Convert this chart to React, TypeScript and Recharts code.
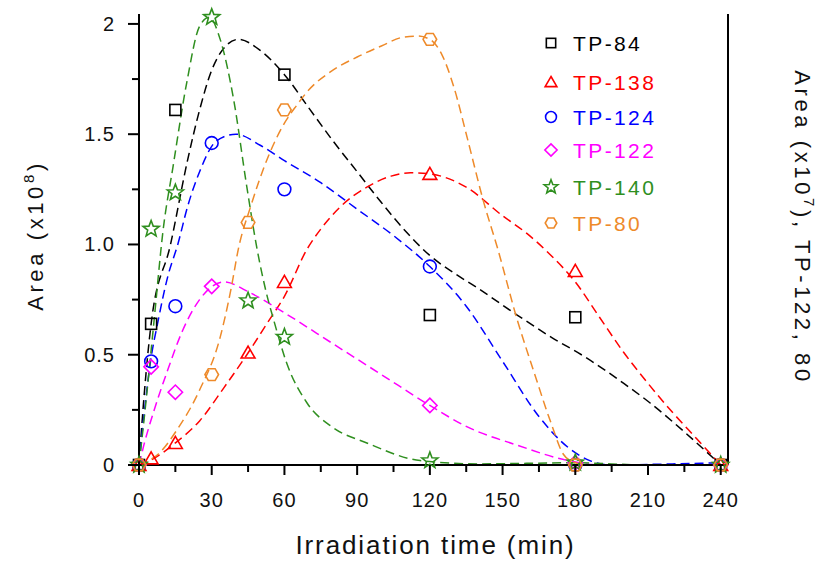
import {
  ComposedChart,
  Line,
  Scatter,
  XAxis,
  YAxis,
  Legend,
} from 'recharts'

// ─── Data ────────────────────────────────────────────────────────────────────

// measured points (irradiation time in min, area)
const tp84X = [0, 5, 15, 60, 120, 180, 240]
const tp84Y = [0, 0.64, 1.61, 1.77, 0.68, 0.67, 0]

const tp138X = [0, 5, 15, 45, 60, 120, 180, 240]
const tp138Y = [0, 0.03, 0.1, 0.51, 0.83, 1.32, 0.88, 0]

const tp124X = [0, 5, 15, 30, 60, 120, 180, 240]
const tp124Y = [0, 0.47, 0.72, 1.46, 1.25, 0.9, 0, 0]

const tp122X = [0, 5, 15, 30, 120, 180, 240]
const tp122Y = [0, 0.445, 0.33, 0.81, 0.27, 0.01, 0]

const tp140X = [0, 5, 15, 30, 45, 60, 120, 180, 240]
const tp140Y = [0, 1.07, 1.235, 2.03, 0.745, 0.58, 0.02, 0.01, 0]

const tp80X = [0, 30, 45, 60, 120, 180, 240]
const tp80Y = [0, 0.41, 1.1, 1.61, 1.93, 0, 0]

// fitted curves
const fit84X = [0, 2, 5, 13, 20, 25, 30, 35, 41, 50, 60, 70, 80, 90, 100, 110, 120, 130, 140, 156, 170, 184, 200, 211, 225, 240]
const fit84Y = [0, 0.3, 0.64, 1.0, 1.38, 1.61, 1.79, 1.89, 1.93, 1.88, 1.77, 1.62, 1.47, 1.33, 1.19, 1.06, 0.95, 0.87, 0.8, 0.68, 0.58, 0.49, 0.37, 0.28, 0.15, 0]

const fit138X = [0, 4.5, 15, 25, 35, 44.5, 53, 60, 69.4, 75, 83, 94, 104, 112, 120, 135, 150, 160, 170, 180, 190, 200, 210, 220, 230, 240]
const fit138Y = [0, 0.02, 0.1, 0.2, 0.35, 0.5, 0.645, 0.765, 0.98, 1.07, 1.17, 1.26, 1.31, 1.325, 1.32, 1.26, 1.13, 1.05, 0.95, 0.83, 0.67, 0.51, 0.37, 0.24, 0.12, 0]

const fit124X = [0, 2, 4.5, 8, 12, 16, 20, 25, 32, 40, 50, 60, 75, 90, 105, 120, 135, 150, 165, 177, 186, 195, 220, 240]
const fit124Y = [0, 0.22, 0.45, 0.66, 0.86, 1.0, 1.17, 1.33, 1.47, 1.5, 1.45, 1.38, 1.28, 1.16, 1.04, 0.9, 0.72, 0.47, 0.22, 0.08, 0.02, 0, 0.005, 0.01]

const fit122X = [0, 2, 6, 11.5, 18, 25, 35, 46, 60, 80, 100, 120, 135, 156, 177, 190, 240]
const fit122Y = [0, 0.09, 0.24, 0.42, 0.61, 0.75, 0.83, 0.78, 0.69, 0.55, 0.41, 0.27, 0.175, 0.09, 0.02, 0, 0]

const fit140X = [0, 3, 6, 10, 14, 19.8, 25, 29, 33.5, 39, 44.5, 48.7, 53, 55.5, 61, 69.4, 80, 94, 116, 140, 180, 210, 240]
const fit140Y = [0, 0.3, 0.63, 1.07, 1.35, 1.74, 1.99, 2.03, 1.93, 1.66, 1.26, 0.98, 0.76, 0.66, 0.46, 0.28, 0.17, 0.1, 0.02, 0.005, 0.01, 0, 0]

const fit80X = [0, 2, 8, 15.7, 25, 33.5, 38, 41, 46, 53, 60, 65, 70, 80, 90, 100, 109, 115, 120, 125, 130, 135.5, 142, 148, 156, 163, 170, 175, 178, 185, 210, 240]
const fit80Y = [0, 0.01, 0.05, 0.16, 0.34, 0.58, 0.8, 0.98, 1.17, 1.39, 1.55, 1.63, 1.7, 1.79, 1.85, 1.9, 1.94, 1.945, 1.93, 1.86, 1.71, 1.48, 1.2, 0.98, 0.66, 0.42, 0.19, 0.05, 0.02, 0, 0, 0]

// axes
const xTicks = [0, 15, 30, 45, 60, 75, 90, 105, 120, 135, 150, 165, 180, 195, 210, 225, 240]
const xMajor = [0, 30, 60, 90, 120, 150, 180, 210, 240]
const yTicks = [0, 0.25, 0.5, 0.75, 1, 1.25, 1.5, 1.75, 2]
const yMajor = [0, 0.5, 1, 1.5, 2]
const yTickLabels = ['0', '0.5', '1.0', '1.5', '2']

const X_MAX = 243
const Y_MAX = 2.045

// ─── Helpers ─────────────────────────────────────────────────────────────────

type MarkerKind = 'square' | 'triangle' | 'circle' | 'diamond' | 'star' | 'hexagon'

const toPts = (xs: number[], ys: number[]) => xs.map((x, i) => ({ x, y: ys[i] }))

const series: {
  name: string
  color: string
  marker: MarkerKind
  points: { x: number; y: number }[]
  fit: { x: number; y: number }[]
}[] = [
  { name: 'TP-84', color: '#000000', marker: 'square', points: toPts(tp84X, tp84Y), fit: toPts(fit84X, fit84Y) },
  { name: 'TP-138', color: '#ff0000', marker: 'triangle', points: toPts(tp138X, tp138Y), fit: toPts(fit138X, fit138Y) },
  { name: 'TP-124', color: '#0000ff', marker: 'circle', points: toPts(tp124X, tp124Y), fit: toPts(fit124X, fit124Y) },
  { name: 'TP-122', color: '#ff00ff', marker: 'diamond', points: toPts(tp122X, tp122Y), fit: toPts(fit122X, fit122Y) },
  { name: 'TP-140', color: '#2f8f1f', marker: 'star', points: toPts(tp140X, tp140Y), fit: toPts(fit140X, fit140Y) },
  { name: 'TP-80', color: '#ee8a2a', marker: 'hexagon', points: toPts(tp80X, tp80Y), fit: toPts(fit80X, fit80Y) },
]

const FONT = '"Liberation Sans", Arial, sans-serif'

function polyPoints(cx: number, cy: number, n: number, rOuter: number, rInner: number, start: number) {
  const pts: string[] = []
  const steps = rInner ? n * 2 : n
  for (let i = 0; i < steps; i++) {
    const r = rInner && i % 2 === 1 ? rInner : rOuter
    const a = start + (i * Math.PI * 2) / steps
    pts.push(`${(cx + r * Math.cos(a)).toFixed(2)},${(cy + r * Math.sin(a)).toFixed(2)}`)
  }
  return pts.join(' ')
}

function Marker({ kind, cx, cy, color, s = 1 }: { kind: MarkerKind; cx: number; cy: number; color: string; s?: number }) {
  const common = { fill: 'none', stroke: color, strokeWidth: 1.6 }
  switch (kind) {
    case 'square':
      return <rect x={cx - 5.5 * s} y={cy - 5.5 * s} width={11 * s} height={11 * s} {...common} />
    case 'triangle':
      return <polygon points={polyPoints(cx, cy + 1.5 * s, 3, 8 * s, 0, -Math.PI / 2)} {...common} />
    case 'circle':
      return <circle cx={cx} cy={cy} r={6.4 * s} {...common} />
    case 'diamond':
      return <polygon points={polyPoints(cx, cy, 4, 7.2 * s, 0, 0)} {...common} />
    case 'star':
      return <polygon points={polyPoints(cx, cy, 5, 8.5 * s, 3.6 * s, -Math.PI / 2)} {...common} />
    case 'hexagon':
      return <polygon points={polyPoints(cx, cy, 6, 6.8 * s, 0, 0)} {...common} />
  }
}

// ─── Ticks ───────────────────────────────────────────────────────────────────

function XTick({ x, y, payload }: any) {
  const major = xMajor.includes(payload.value)
  return (
    <g>
      <line x1={x} y1={y} x2={x} y2={y + (major ? 10 : 7)} stroke="#000" strokeWidth={2} />
      {major && (
        <text x={x} y={y + 42} textAnchor="middle" fontFamily={FONT} fontSize={20} letterSpacing={1} fill="#111">
          {payload.value}
        </text>
      )}
    </g>
  )
}

function YTickLeft({ x, y, payload }: any) {
  const idx = yMajor.indexOf(payload.value)
  return (
    <g>
      <line x1={x - (idx >= 0 ? 11 : 7)} y1={y} x2={x} y2={y} stroke="#000" strokeWidth={2} />
      {idx >= 0 && (
        <text x={x - 24} y={y + 7} textAnchor="end" fontFamily={FONT} fontSize={20} letterSpacing={1} fill="#111">
          {yTickLabels[idx]}
        </text>
      )}
    </g>
  )
}

function YTickRight({ x, y, payload }: any) {
  const idx = yMajor.indexOf(payload.value)
  return (
    <g>
      <line x1={x} y1={y} x2={x + (idx >= 0 ? 10 : 7)} y2={y} stroke="#000" strokeWidth={2} />
      {idx >= 0 && (
        <text x={x + 20} y={y + 7} textAnchor="start" fontFamily={FONT} fontSize={20} letterSpacing={1} fill="#111">
          {yTickLabels[idx]}
        </text>
      )}
    </g>
  )
}

// ─── Titles ──────────────────────────────────────────────────────────────────

function XTitle({ viewBox }: any) {
  const cx = viewBox.x + viewBox.width / 2 + 2
  return (
    <text x={cx} y={554} textAnchor="middle" fontFamily={FONT} fontSize={26} letterSpacing={1.9} fill="#111">
      Irradiation time (min)
    </text>
  )
}

function LeftTitle({ viewBox }: any) {
  const cx = viewBox.x + 43
  const cy = viewBox.y + viewBox.height / 2 - 4
  return (
    <text
      x={cx}
      y={cy}
      transform={`rotate(-90 ${cx} ${cy})`}
      textAnchor="middle"
      fontFamily={FONT}
      fontSize={22}
      letterSpacing={3.6}
      fill="#111"
    >
      Area (x10
      <tspan dy={-9} fontSize={15}>8</tspan>
      <tspan dy={9}>)</tspan>
    </text>
  )
}

function RightTitle({ viewBox }: any) {
  const cx = viewBox.x + 67
  const cy = viewBox.y + viewBox.height / 2 - 12
  return (
    <text
      x={cx}
      y={cy}
      transform={`rotate(90 ${cx} ${cy})`}
      textAnchor="middle"
      fontFamily={FONT}
      fontSize={22}
      letterSpacing={3.6}
      fill="#111"
    >
      Area (x10
      <tspan dy={-9} fontSize={15}>7</tspan>
      <tspan dy={9}>), TP-122, 80</tspan>
    </text>
  )
}

// ─── Legend ──────────────────────────────────────────────────────────────────

const legendRows = [18, 57, 92, 125, 162, 198]

function LegendBox() {
  return (
    <svg width={130} height={215} style={{ display: 'block' }}>
      {series.map((s, i) => {
        const cy = legendRows[i]
        return (
          <g key={s.name}>
            <Marker kind={s.marker} cx={11} cy={cy} color={s.color} s={0.85} />
            <text x={33} y={cy + 8} fontFamily={FONT} fontSize={21} letterSpacing={2.4} fill={s.color}>
              {s.name}
            </text>
          </g>
        )
      })}
    </svg>
  )
}

// ─── Chart ───────────────────────────────────────────────────────────────────

export default function App() {
  return (
    <div style={{ position: 'absolute', left: 0, top: 0, width: 832, height: 563, background: '#fff' }}>
      <ComposedChart width={832} height={563} margin={{ top: 14, right: 0, bottom: 0, left: 0 }}>
        <XAxis
          dataKey="x"
          type="number"
          domain={[0, X_MAX]}
          ticks={xTicks}
          tick={<XTick />}
          tickSize={0}
          tickMargin={0}
          tickLine={false}
          axisLine={{ stroke: '#000', strokeWidth: 2 }}
          height={98}
          interval={0}
          label={<XTitle />}
        />
        <XAxis
          xAxisId="top"
          orientation="top"
          type="number"
          domain={[0, X_MAX]}
          tick={false}
          tickLine={false}
          axisLine={{ stroke: '#000', strokeWidth: 2.5 }}
          height={0}
        />
        <YAxis
          dataKey="y"
          type="number"
          domain={[0, Y_MAX]}
          ticks={yTicks}
          tick={<YTickLeft />}
          tickSize={0}
          tickMargin={0}
          tickLine={false}
          axisLine={{ stroke: '#000', strokeWidth: 2 }}
          width={139}
          interval={0}
          label={<LeftTitle />}
        />
        <YAxis
          yAxisId="right"
          orientation="right"
          dataKey="y"
          type="number"
          domain={[0, Y_MAX]}
          ticks={yTicks}
          tick={<YTickRight />}
          tickSize={0}
          tickMargin={0}
          tickLine={false}
          axisLine={{ stroke: '#000', strokeWidth: 2 }}
          width={104}
          interval={0}
          label={<RightTitle />}
        />

        <Legend
          layout="vertical"
          align="center"
          verticalAlign="middle"
          content={() => <LegendBox />}
          wrapperStyle={{ left: 540, top: 25, width: 130, height: 215 }}
        />

        {/* ── fitted curves ── */}
        {series.map((s) => (
          <Line
            key={`fit-${s.name}`}
            data={s.fit}
            dataKey="y"
            type="monotone"
            stroke={s.color}
            strokeWidth={1.5}
            strokeDasharray="9 5"
            dot={false}
            activeDot={false}
            legendType="none"
            isAnimationActive={false}
          />
        ))}

        {/* ── measured points ── */}
        {series.map((s) => (
          <Scatter
            key={`pts-${s.name}`}
            name={s.name}
            data={s.points}
            dataKey="y"
            fill={s.color}
            shape={(p: any) => <Marker kind={s.marker} cx={p.cx} cy={p.cy} color={s.color} />}
            isAnimationActive={false}
          />
        ))}
      </ComposedChart>
    </div>
  )
}
